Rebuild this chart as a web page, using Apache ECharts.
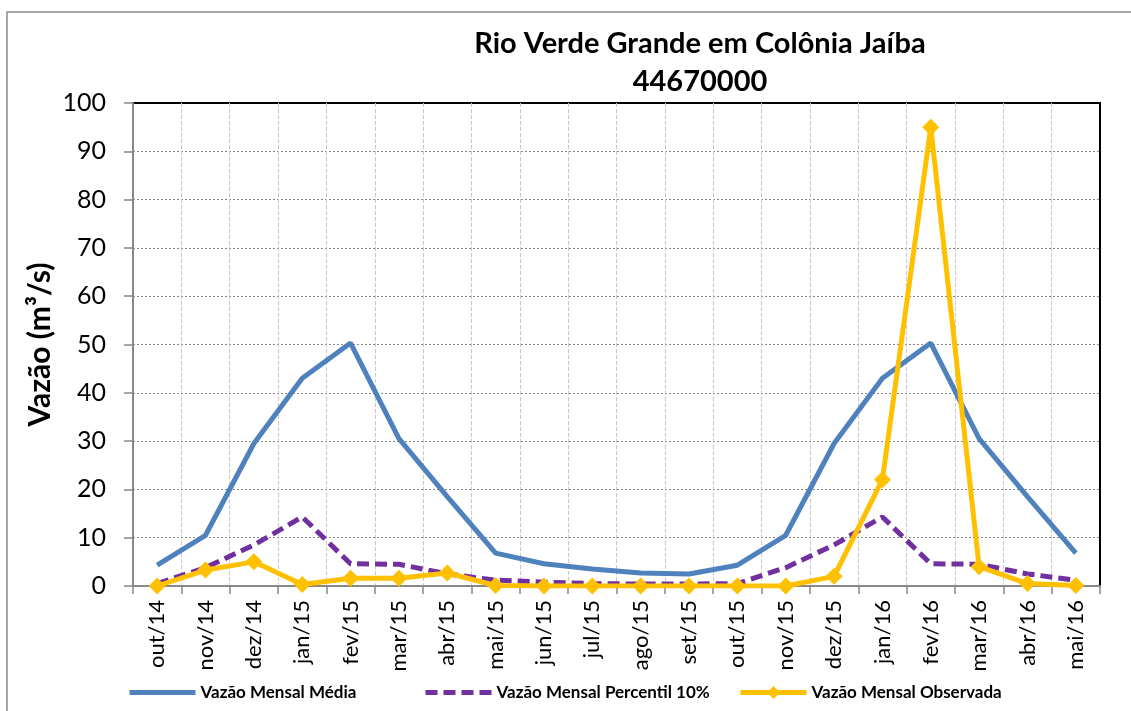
<!DOCTYPE html>
<html>
<head>
<meta charset="utf-8">
<script src="https://cdn.jsdelivr.net/npm/echarts@6/dist/echarts.min.js"></script>
<style>
  html, body { margin: 0; padding: 0; background: #fff; }
  #chart { width: 1131px; height: 711px; }
</style>
</head>
<body>
<div id="chart"></div>
<script>
const months = ['out/14', 'nov/14', 'dez/14', 'jan/15', 'fev/15', 'mar/15', 'abr/15', 'mai/15', 'jun/15', 'jul/15',
    'ago/15', 'set/15', 'out/15', 'nov/15', 'dez/15', 'jan/16', 'fev/16', 'mar/16', 'abr/16', 'mai/16'];
const media = [4.3, 10.5, 29.5, 43, 50.3, 30.5, 18.5, 6.8, 4.6, 3.5, 2.7, 2.5, 4.3, 10.5, 29.5, 43, 50.3, 30.5, 18.5, 6.8];
const percentil10 = [0.5, 3.8, 8.5, 14.3, 4.6, 4.5, 2.5, 1.2, 0.8, 0.5, 0.4, 0.4, 0.5, 3.8, 8.5, 14.3, 4.6, 4.5, 2.5, 1.2];
const observada = [0, 3.3, 5, 0.3, 1.6, 1.6, 2.7, 0.1, 0, 0, 0, 0, 0, 0, 2, 22, 95, 4, 0.5, 0.1];

const font = 'Lato, "Open Sans", "DejaVu Sans", sans-serif';
const legendText = { fontSize: 17, fontWeight: 'bold', color: '#000', fontFamily: font };

(function () {
    const chart = echarts.init(document.getElementById('chart'));
    // one legend per item so each sits where Excel put it
    function legendAt(left, name, hideSymbol) {
        return {
            left: left,
            top: 679,
            itemWidth: 66,
            itemHeight: 16,
            itemGap: 8,
            textStyle: legendText,
            lineStyle: { width: 5 },
            itemStyle: hideSymbol ? { opacity: 0 } : {},
            data: [name]
        };
    }
    const option = {
        animation: false,
        textStyle: { fontFamily: font },
        title: {
            text: 'Rio Verde Grande em Colônia Jaíba\n44670000',
            left: 695,
            top: 20,
            textAlign: 'center',
            textStyle: { fontSize: 29, fontWeight: 'bold', color: '#000', lineHeight: 38, fontFamily: font }
        },
        graphic: [{
            type: 'rect',
            shape: { x: 7, y: 12, width: 1140, height: 720 },
            style: { fill: 'none', stroke: '#888', lineWidth: 1.5 },
            silent: true,
            z: -1
        }],
        legend: [
            legendAt(122, 'Vazão Mensal Média', true),
            legendAt(418, 'Vazão Mensal Percentil 10%', true),
            legendAt(733, 'Vazão Mensal Observada', false)
        ],
        grid: {
            left: 133,
            right: 31,
            top: 103,
            bottom: 125,
            show: true,
            borderColor: '#000',
            borderWidth: 2
        },
        xAxis: {
            type: 'category',
            data: months,
            boundaryGap: true,
            axisLine: { lineStyle: { color: '#888', width: 2 } },
            axisTick: { show: true, inside: false, length: 8, lineStyle: { color: '#888', width: 1.5 } },
            splitLine: { show: true, showMinLine: false, showMaxLine: false, lineStyle: { color: '#c8c8c8', type: [4, 2], width: 1 } },
            axisLabel: { rotate: 90, fontSize: 22, color: '#000', margin: 14, fontFamily: font }
        },
        yAxis: {
            type: 'value',
            min: 0,
            max: 100,
            interval: 10,
            name: 'Vazão (m³/s)',
            nameLocation: 'middle',
            nameGap: 78,
            nameMoveOverlap: false,
            nameTextStyle: { fontSize: 30, fontWeight: 'bold', color: '#000', fontFamily: font },
            axisLine: { show: true, lineStyle: { color: '#888', width: 2 } },
            axisTick: { show: true, length: 9, lineStyle: { color: '#888', width: 1.5 } },
            splitLine: { showMinLine: false, showMaxLine: false, lineStyle: { color: '#888', type: [2, 2], width: 1 } },
            axisLabel: { fontSize: 25, color: '#000', margin: 27, fontFamily: font }
        },
        series: [
            {
                name: 'Vazão Mensal Média',
                type: 'line',
                data: media,
                symbol: 'none',
                lineStyle: { color: '#4f81bd', width: 5 },
                itemStyle: { color: '#4f81bd' },
                z: 2
            },
            {
                name: 'Vazão Mensal Percentil 10%',
                type: 'line',
                data: percentil10,
                symbol: 'none',
                lineStyle: { color: '#7030a0', width: 5, type: [12, 6] },
                itemStyle: { color: '#7030a0' },
                z: 3
            },
            {
                name: 'Vazão Mensal Observada',
                type: 'line',
                data: observada,
                symbol: 'diamond',
                symbolSize: 17,
                lineStyle: { color: '#ffc000', width: 5 },
                itemStyle: { color: '#ffc000' },
                z: 4
            }
        ]
    };
    chart.setOption(option);
})();
</script>
</body>
</html>
